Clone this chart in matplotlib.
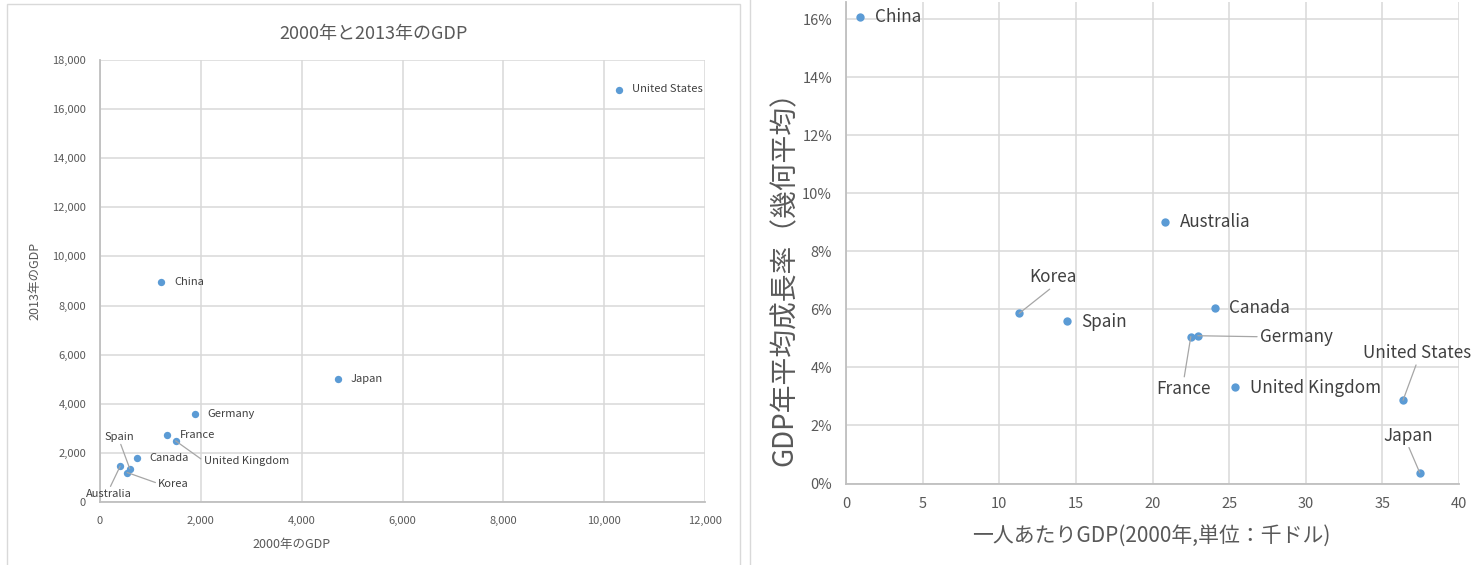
import matplotlib.pyplot as plt
from matplotlib.patches import Rectangle
from matplotlib.ticker import FuncFormatter, MultipleLocator

plt.rcParams['font.family'] = ['Noto Sans CJK JP', 'DejaVu Sans']

# left chart: GDP 2000 vs 2013
countries = ['United States', 'China', 'Japan', 'Germany', 'France',
             'United Kingdom', 'Canada', 'Australia', 'Spain', 'Korea']
gdp_2000 = [10290, 1200, 4730, 1890, 1330, 1500, 740, 400, 590, 540]
gdp_2013 = [16770, 8950, 5000, 3580, 2720, 2490, 1800, 1460, 1360, 1200]

# right chart: per-capita GDP 2000 vs growth rate
per_capita_2000 = [36.35, 0.9, 37.44, 22.96, 22.5, 25.38, 24.09, 20.8, 14.42, 11.3]
growth_rate = [2.87, 16.08, 0.37, 5.09, 5.06, 3.33, 6.03, 9.01, 5.61, 5.86]

# label offsets in pixels (dx, dy up), relpos for leader lines
left_offsets = {
    'United States': (13, 1, None), 'China': (14, 0, None), 'Japan': (12, 0, None),
    'Germany': (12, 0, None), 'France': (13, 0, None), 'Canada': (12, 0, None),
    'United Kingdom': (28, -20, (0, 0.5)), 'Korea': (31, -11, (0, 0.5)),
    'Spain': (-10, 27, (0.5, 0)), 'Australia': (-11, -23, (0.5, 1)),
}
right_offsets = {
    'China': (15, 0, None), 'Australia': (15, 0, None), 'Spain': (14, -1, None),
    'Canada': (14, 0, None), 'United Kingdom': (15, -1, None),
    'Korea': (34, 27, (0.5, 0)), 'Germany': (62, -1, (0, 0.5)),
    'France': (-7, -43, (0.5, 1)), 'United States': (14, 38, (0.5, 0)),
    'Japan': (-12, 28, (0.5, 0)),
}

W, H = 1479, 565
fig = plt.figure(figsize=(W / 100, H / 100), dpi=100)

# panel frames
fig.patches.append(Rectangle((7 / W, -0.05), 733 / W, 1 - 4 / H + 0.05, transform=fig.transFigure,
                             fill=False, edgecolor='#d9d9d9', lw=1))
fig.patches.append(Rectangle((750 / W, -0.05), 800 / W, 1.2, transform=fig.transFigure,
                             fill=False, edgecolor='#d9d9d9', lw=1))

dot = '#5b9bd5'
grid = '#d9d9d9'
txt = '#595959'


def style_axes(ax, ticksize, pad):
    ax.grid(True, color=grid, lw=1.1)
    ax.set_axisbelow(True)
    for s in ['top', 'right']:
        ax.spines[s].set_visible(False)
    for s in ['left', 'bottom']:
        ax.spines[s].set_color('#bfbfbf')
        ax.spines[s].set_linewidth(1.3)
    ax.tick_params(length=0, labelsize=ticksize, labelcolor=txt, pad=pad)


def label_points(ax, xs, ys, offsets, size):
    for name, x, y in zip(countries, xs, ys):
        dx, dy, rel = offsets[name]
        if rel is None:
            ax.annotate(name, (x, y), xytext=(dx * 0.72, dy * 0.72), textcoords='offset points',
                        ha='left', va='center', fontsize=size, color='#404040')
        else:
            ha = {0: 'left', 0.5: 'center'}[rel[0]]
            va = {0: 'bottom', 0.5: 'center', 1: 'top'}[rel[1]]
            ax.annotate(name, (x, y), xytext=(dx * 0.72, dy * 0.72), textcoords='offset points',
                        ha=ha, va=va, fontsize=size, color='#404040',
                        arrowprops=dict(arrowstyle='-', color='#a6a6a6', lw=0.9,
                                        shrinkA=0, shrinkB=0, relpos=rel))


# ---- left chart ----
ax1 = fig.add_axes([100 / W, (H - 502) / H, 605 / W, 442 / H])
ax1.scatter(gdp_2000, gdp_2013, s=28, color=dot, zorder=3, linewidths=0)
ax1.set_xlim(0, 12000)
ax1.set_ylim(0, 18000)
ax1.xaxis.set_major_locator(MultipleLocator(2000))
ax1.yaxis.set_major_locator(MultipleLocator(2000))
ax1.xaxis.set_major_formatter(FuncFormatter(lambda v, p: f'{v:,.0f}'))
ax1.yaxis.set_major_formatter(FuncFormatter(lambda v, p: f'{v:,.0f}'))
style_axes(ax1, 8, 10)
label_points(ax1, gdp_2000, gdp_2013, left_offsets, 8)
ax1.set_title('2000年と2013年のGDP', fontsize=13, color=txt, pad=15, x=0.452)
ax1.set_xlabel('2000年のGDP', fontsize=9, color=txt)
ax1.xaxis.set_label_coords(0.316, -0.081)
ax1.set_ylabel('2013年のGDP', fontsize=9, color=txt)
ax1.yaxis.set_label_coords(-0.0975, 0.5)

# ---- right chart ----
ax2 = fig.add_axes([846 / W, (H - 483.5) / H, 613 / W, 481.9 / H])
ax2.scatter(per_capita_2000, growth_rate, s=36, color=dot, zorder=3, linewidths=0)
ax2.set_xlim(0, 40)
ax2.set_ylim(0, 16.6)
ax2.xaxis.set_major_locator(MultipleLocator(5))
ax2.yaxis.set_major_locator(MultipleLocator(2))
ax2.yaxis.set_major_formatter(FuncFormatter(lambda v, p: f'{v:.0f}%'))
style_axes(ax2, 10.5, 10)
label_points(ax2, per_capita_2000, growth_rate, right_offsets, 12.3)
ax2.set_xlabel('一人あたりGDP(2000年,単位：千ドル)', fontsize=15, color=txt)
ax2.xaxis.set_label_coords(0.498, -0.086)
ax2.set_ylabel('GDP年平均成長率（幾何平均）', fontsize=20, color=txt)
ax2.yaxis.set_label_coords(-0.075, 0.44)

fig.savefig('out.png', dpi=100)
